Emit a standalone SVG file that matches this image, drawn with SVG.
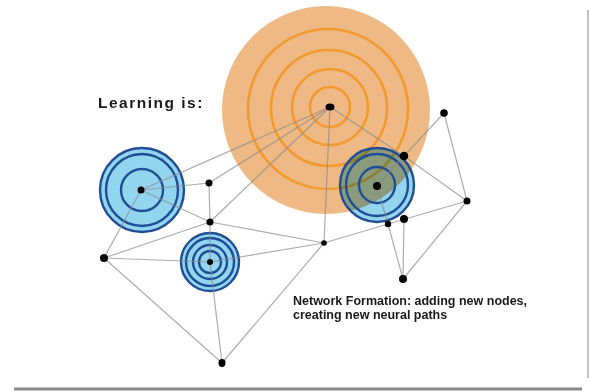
<svg xmlns="http://www.w3.org/2000/svg" width="590" height="392" viewBox="0 0 590 392">
<style>
.ring-o{fill:none;stroke:#f39a2e;stroke-width:2.6}
.blue{fill:#93d4ee;stroke:#1f4e96;stroke-width:2.4}
.ring-b{fill:none;stroke:#1f4e96;stroke-width:2.4}
.edge{stroke:#8a8a8a;stroke-opacity:0.7;stroke-width:1.2;fill:none}
.dot{fill:#000}
.t{font-family:"Liberation Sans",Arial,sans-serif;font-weight:bold;fill:#1a1a1a}
</style>
<rect width="590" height="392" fill="#fff"/>
<line x1="588" y1="10" x2="588" y2="378" stroke="#9a9a9a" stroke-width="1.2"/>
<line x1="14" y1="389" x2="582" y2="389" stroke="#8a8a8a" stroke-width="3"/>

<g id="node-A">
<circle cx="326" cy="110" r="104" fill="#efb986"/>
<circle class="ring-o" cx="330" cy="107" r="20"/>
<circle class="ring-o" cx="330" cy="107" r="38"/>
<circle class="ring-o" cx="329" cy="108" r="58"/>
<circle class="ring-o" cx="328" cy="109" r="80"/>
</g>
<g id="node-B">
<circle class="blue" cx="142" cy="190" r="42"/>
<circle class="ring-b" cx="142" cy="190" r="36"/>
<circle class="ring-b" cx="142" cy="190" r="21"/>
</g>
<g id="node-C">
<circle class="blue" cx="210" cy="262" r="29"/>
<circle class="ring-b" cx="210" cy="262" r="24"/>
<circle class="ring-b" cx="210" cy="262" r="17"/>
<circle class="ring-b" cx="210" cy="262" r="11"/>
</g>
<g id="node-D">
<circle cx="377" cy="185" r="37" fill="#93d4ee" style="mix-blend-mode:multiply"/>
<circle class="ring-b" cx="377" cy="185" r="37"/>
<circle class="ring-b" cx="377" cy="185" r="31"/>
<circle class="ring-b" cx="377" cy="185" r="18"/>
</g>

<g id="connectors">
<line class="edge" x1="330" y1="107" x2="141" y2="190"/>
<line class="edge" x1="330" y1="107" x2="209" y2="183"/>
<line class="edge" x1="330" y1="107" x2="210" y2="222"/>
<line class="edge" x1="330" y1="107" x2="324" y2="243"/>
<line class="edge" x1="330" y1="107" x2="404" y2="156"/>
<line class="edge" x1="141" y1="190" x2="209" y2="183"/>
<line class="edge" x1="141" y1="190" x2="210" y2="222"/>
<line class="edge" x1="141" y1="190" x2="104" y2="258"/>
<line class="edge" x1="209" y1="183" x2="210" y2="222"/>
<line class="edge" x1="210" y1="222" x2="210" y2="262"/>
<line class="edge" x1="210" y1="222" x2="324" y2="243"/>
<line class="edge" x1="104" y1="258" x2="210" y2="222"/>
<line class="edge" x1="104" y1="258" x2="210" y2="262"/>
<line class="edge" x1="104" y1="258" x2="222" y2="363"/>
<line class="edge" x1="210" y1="262" x2="222" y2="363"/>
<line class="edge" x1="210" y1="262" x2="324" y2="243"/>
<line class="edge" x1="324" y1="243" x2="222" y2="363"/>
<line class="edge" x1="324" y1="243" x2="388" y2="224"/>
<line class="edge" x1="388" y1="224" x2="467" y2="201"/>
<line class="edge" x1="404" y1="156" x2="467" y2="201"/>
<line class="edge" x1="444" y1="113" x2="404" y2="156"/>
<line class="edge" x1="444" y1="113" x2="467" y2="201"/>
<line class="edge" x1="467" y1="201" x2="403" y2="279"/>
<line class="edge" x1="404" y1="219" x2="403" y2="279"/>
<line class="edge" x1="388" y1="224" x2="403" y2="279"/>
<line class="edge" x1="377" y1="186" x2="404" y2="156"/>
<line class="edge" x1="377" y1="186" x2="388" y2="224"/>
</g>

<g id="dot-A"><ellipse class="dot" cx="330" cy="107" rx="4.5" ry="3.5"/></g>
<g id="dot-B"><circle class="dot" cx="141" cy="190" r="3.5"/></g>
<g id="dot-C"><circle class="dot" cx="210" cy="262" r="3"/></g>
<g id="dot-D"><circle class="dot" cx="377" cy="186" r="4"/></g>
<g id="node-E"><circle class="dot" cx="209" cy="183" r="3.5"/></g>
<g id="node-F"><circle class="dot" cx="210" cy="222" r="3.5"/></g>
<g id="node-G"><circle class="dot" cx="104" cy="258" r="4"/></g>
<g id="node-H"><ellipse class="dot" cx="222" cy="363" rx="3.5" ry="4"/></g>
<g id="node-I"><circle class="dot" cx="324" cy="243" r="2.8"/></g>
<g id="node-J"><circle class="dot" cx="444" cy="113" r="3.8"/></g>
<g id="node-K"><circle class="dot" cx="404" cy="156" r="4.3"/></g>
<g id="node-L"><circle class="dot" cx="467" cy="201" r="3.5"/></g>
<g id="node-M"><circle class="dot" cx="388" cy="224" r="3.2"/></g>
<g id="node-N"><circle class="dot" cx="404" cy="219" r="4"/></g>
<g id="node-O"><circle class="dot" cx="403" cy="279" r="4"/></g>

<text class="t" x="98" y="108" font-size="15.5" letter-spacing="1.5">Learning is:</text>
<text class="t" x="293" y="305" font-size="12.5">Network Formation: adding new nodes,</text>
<text class="t" x="293" y="319" font-size="12.5">creating new neural paths</text>
</svg>
